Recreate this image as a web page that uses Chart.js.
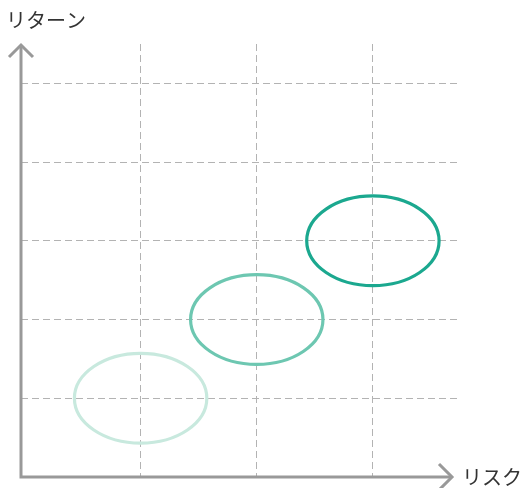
<!DOCTYPE html>
<html>
<head>
<meta charset="utf-8">
<script src="https://cdn.jsdelivr.net/npm/chart.js@4"></script>
<style>
  html, body { margin: 0; padding: 0; background: #fff; }
  #wrap { width: 528px; height: 488px; }
</style>
</head>
<body>
<div id="wrap"><canvas id="riskReturn"></canvas></div>
<script>
// ellipse centres (risk, return) and half-widths in data units
const riskValues = [1, 2, 3];
const returnValues = [1, 2, 3];
const spreadX = [0.57, 0.57, 0.57];
const spreadY = [0.57, 0.57, 0.57];
const ellipseColors = ["#c8e9de", "#6dc7b1", "#1ba88f"];
const xLabel = "リスク";
const yLabel = "リターン";

const AXIS = "#999";
const FONT = "'Noto Sans CJK JP', 'Noto Sans', sans-serif";

const ellipses = {
    id: "ellipses",
    afterDatasetsDraw(chart) {
        const { ctx, scales: { x, y } } = chart;
        const meta = chart.getDatasetMeta(0);
        meta.data.forEach((pt, i) => {
            const rx = Math.abs(x.getPixelForValue(riskValues[i] + spreadX[i]) - pt.x);
            const ry = Math.abs(y.getPixelForValue(returnValues[i] + spreadY[i]) - pt.y);
            ctx.save();
            ctx.beginPath();
            ctx.ellipse(pt.x, pt.y, rx, ry, 0, 0, Math.PI * 2);
            ctx.strokeStyle = ellipseColors[i];
            ctx.lineWidth = 3.2;
            ctx.stroke();
            ctx.restore();
        });
    }
};

const arrowAxes = {
    id: "arrowAxes",
    afterDraw(chart) {
        const { ctx, chartArea: a } = chart;
        const ox = a.left, oy = a.bottom;
        const xEnd = a.right - 8, yEnd = a.top + 1;
        ctx.save();
        ctx.strokeStyle = AXIS;
        ctx.lineWidth = 3;
        ctx.beginPath();
        ctx.moveTo(ox, yEnd + 1);
        ctx.lineTo(ox, oy);
        ctx.lineTo(xEnd - 1, oy);
        ctx.stroke();
        // arrow heads
        ctx.beginPath();
        ctx.moveTo(ox - 12, yEnd + 12);
        ctx.lineTo(ox, yEnd);
        ctx.lineTo(ox + 12, yEnd + 12);
        ctx.moveTo(xEnd - 13, oy - 13);
        ctx.lineTo(xEnd, oy);
        ctx.lineTo(xEnd - 13, oy + 13);
        ctx.stroke();
        // axis names
        ctx.fillStyle = "#333";
        ctx.font = "20px " + FONT;
        ctx.textBaseline = "middle";
        ctx.textAlign = "left";
        ctx.fillText(yLabel, 6, 20);
        ctx.fillText(xLabel, xEnd + 10, oy);
        ctx.restore();
    }
};

const gridColor = (c) => {
    const v = c.tick.value;
    return (v > 0 && Number.isInteger(v)) ? "#b3b3b3" : "rgba(0,0,0,0)";
};

new Chart(document.getElementById("riskReturn"), {
    type: "scatter",
    data: {
        datasets: [{
            data: riskValues.map((r, i) => ({ x: r, y: returnValues[i] })),
            pointRadius: 0,
            pointHoverRadius: 0,
        }]
    },
    options: {
        responsive: true,
        maintainAspectRatio: false,
        animation: false,
        layout: { padding: { left: 21, right: 68, top: 44, bottom: 11 } },
        scales: {
            x: {
                type: "linear",
                min: -0.03,
                max: 3.75,
                border: { display: false, dash: [7, 4] },
                grid: { color: gridColor, lineWidth: 1, drawTicks: false },
                ticks: { display: false, stepSize: 1 },
            },
            y: {
                type: "linear",
                min: 0,
                max: 5.5,
                border: { display: false, dash: [7, 4] },
                grid: { color: gridColor, lineWidth: 1, drawTicks: false },
                ticks: { display: false, stepSize: 1 },
            },
        },
        plugins: {
            legend: { display: false },
            tooltip: { enabled: false },
        }
    },
    plugins: [ellipses, arrowAxes]
});
</script>
</body>
</html>
